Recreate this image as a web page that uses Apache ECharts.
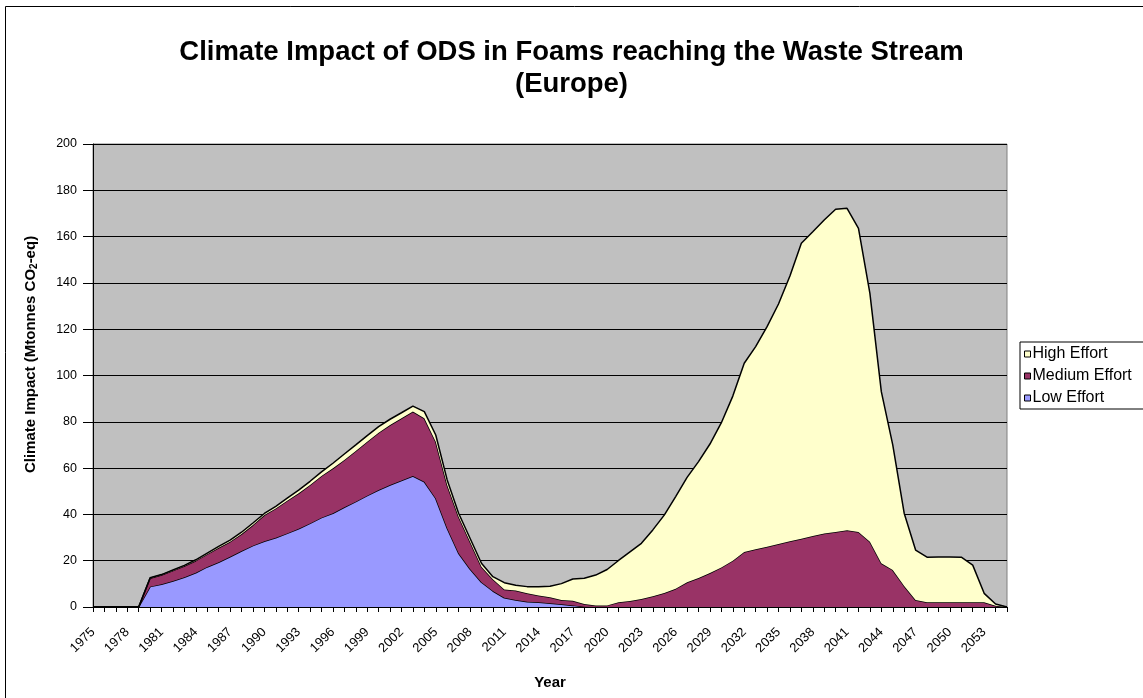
<!DOCTYPE html>
<html>
<head>
<meta charset="utf-8">
<title>Climate Impact of ODS in Foams</title>
<script src="https://cdn.jsdelivr.net/npm/echarts@6/dist/echarts.min.js"></script>
<style>
  html, body { margin: 0; padding: 0; background: #fff; }
  #chart { width: 1143px; height: 698px; }
</style>
</head>
<body>
<div id="chart"></div>
<script>
// years 1975 - 2055
const years = [];
for (let y = 1975; y <= 2055; y++) years.push(String(y));

// Mtonnes CO2-eq (each series is its own layer of the stack)
const lowEffort = [
  0, 0, 0, 0, 0, 8.8, 9.8, 11.2, 12.8, 14.8,
  17.3, 19.3, 21.7, 24.2, 26.5, 28.4, 29.9, 31.8, 33.8, 36.1,
  38.6, 40.5, 43.1, 45.5, 48.1, 50.5, 52.7, 54.6, 56.6, 54.1,
  46.9, 34.0, 23.2, 16.4, 10.7, 6.9, 4.0, 3.0, 2.3, 2.0,
  1.6, 1.2, 0.7, 0.1, 0, 0, 0, 0, 0, 0,
  0, 0, 0, 0, 0, 0, 0, 0, 0, 0,
  0, 0, 0, 0, 0, 0, 0, 0, 0, 0,
  0, 0, 0, 0, 0, 0, 0, 0, 0, 0,
  0
];
const mediumEffort = [
  0, 0, 0, 0, 0, 3.6, 4.0, 4.5, 4.9, 5.2,
  5.5, 6.3, 6.5, 7.3, 8.9, 11.3, 12.7, 14.1, 15.3, 16.6,
  18.0, 19.4, 20.4, 21.9, 23.3, 24.8, 25.9, 26.9, 27.8, 27.4,
  24.5, 18.7, 15.8, 11.8, 6.7, 5.1, 3.6, 4.1, 3.6, 3.0,
  2.6, 1.8, 2.0, 1.2, 0.6, 0.7, 2.0, 2.6, 3.5, 4.6,
  6.0, 7.9, 10.7, 12.5, 14.7, 17.1, 20.0, 23.8, 24.9, 26.0,
  27.2, 28.4, 29.5, 30.7, 31.7, 32.4, 33.1, 32.4, 28.2, 18.9,
  16.0, 9.1, 3.0, 2.0, 2.0, 2.0, 2.0, 2.0, 2.0, 0.5,
  0
];
const highEffort = [
  0, 0, 0, 0, 0, 0.2, 0.2, 0.3, 0.3, 0.4,
  0.5, 0.6, 0.7, 0.8, 0.9, 0.7, 0.9, 1.1, 1.4, 1.6,
  1.8, 2.2, 2.6, 2.6, 2.6, 2.6, 2.5, 2.4, 2.4, 2.9,
  2.9, 2.2, 1.5, 1.5, 1.5, 1.1, 2.9, 2.3, 2.9, 3.8,
  4.8, 7.1, 9.4, 11.1, 13.2, 15.5, 18.1, 21.2, 24.0, 28.7,
  33.7, 39.8, 45.3, 50.3, 55.7, 62.5, 71.1, 81.5, 87.6, 95.1,
  103.7, 114.6, 127.6, 131.4, 135.5, 139.4, 139.1, 131.2, 107.3, 74.1,
  54.0, 31.4, 21.6, 19.5, 19.6, 19.6, 19.5, 16.1, 3.9, 0.8,
  0
];

const seriesNames = ["Low Effort", "Medium Effort", "High Effort"];
const seriesColors = ["#9999FF", "#993366", "#FFFFCC"];
const seriesData = [lowEffort, mediumEffort, highEffort];

const chart = echarts.init(document.getElementById("chart"), null, { renderer: "canvas" });

const options = {
  backgroundColor: "#fff",
  animation: false,
  textStyle: { fontFamily: "Arial, 'Liberation Sans', sans-serif", color: "#000" },
  title: {
    text: "Climate Impact of ODS in Foams reaching the Waste Stream\n(Europe)",
    left: "center",
    top: 31,
    textStyle: {
      fontSize: 27.5,
      fontWeight: "bold",
      lineHeight: 32,
      color: "#000",
    },
  },
  graphic: [
    {
      // outer chart frame
      type: "rect",
      shape: { x: 5.5, y: 6.5, width: 1160, height: 720 },
      style: { fill: null, stroke: "#000", lineWidth: 1 },
      silent: true,
    },
  ],
  legend: {
    orient: "vertical",
    left: 1020,
    top: 342,
    data: ["High Effort", "Medium Effort", "Low Effort"],
    icon: "rect",
    itemWidth: 6,
    itemHeight: 6,
    itemGap: 6,
    padding: [4, 12, 3, 4],
    borderColor: "#000",
    borderWidth: 1,
    backgroundColor: "#fff",
    textStyle: { fontSize: 16, lineHeight: 16, color: "#000", padding: [0, 0, 0, -3] },
    itemStyle: { borderColor: "#000", borderWidth: 1 },
  },
  grid: {
    left: 93,
    top: 144,
    right: 136,
    bottom: 91,
    show: true,
    backgroundColor: "#C0C0C0",
    borderColor: "#808080",
    borderWidth: 1,
  },
  xAxis: {
    type: "category",
    data: years,
    boundaryGap: false,
    name: "Year",
    nameLocation: "middle",
    nameGap: 68,
    nameTextStyle: { fontSize: 15, fontWeight: "bold", color: "#000" },
    axisLine: { lineStyle: { color: "#000", width: 1 } },
    axisTick: { show: true, interval: 0, length: 5, lineStyle: { color: "#000" } },
    axisLabel: { interval: 2, rotate: 45, fontSize: 13, color: "#000", margin: 23 },
    splitLine: { show: false },
  },
  yAxis: {
    type: "value",
    min: 0,
    max: 200,
    interval: 20,
    name: "Climate Impact (Mtonnes CO{sub|2}-eq)",
    nameLocation: "middle",
    nameRotate: 90,
    nameGap: 54,
    nameTextStyle: {
      fontSize: 15,
      fontWeight: "bold",
      color: "#000",
      padding: [0, 0, 0, 42],
      rich: {
        sub: { fontSize: 10, fontWeight: "bold", color: "#000", verticalAlign: "bottom", padding: [6, 0, 0, 0] },
      },
    },
    axisLine: { show: true, lineStyle: { color: "#000", width: 1 } },
    axisTick: { show: true, length: 10, lineStyle: { color: "#000" } },
    axisLabel: { fontSize: 12.5, color: "#000", margin: 16 },
    splitLine: { show: true, lineStyle: { color: "#000", width: 1 } },
  },
  series: seriesNames.map((name, i) => ({
    name: name,
    type: "line",
    stack: "total",
    data: seriesData[i],
    showSymbol: false,
    symbol: "none",
    lineStyle: { color: "#000", width: 1.5 },
    itemStyle: { color: seriesColors[i] },
    areaStyle: { color: seriesColors[i], opacity: 1 },
    z: 2 + i,
  })),
};

chart.setOption(options);

window.addEventListener("resize", () => {
  chart.resize();
});
</script>
</body>
</html>
